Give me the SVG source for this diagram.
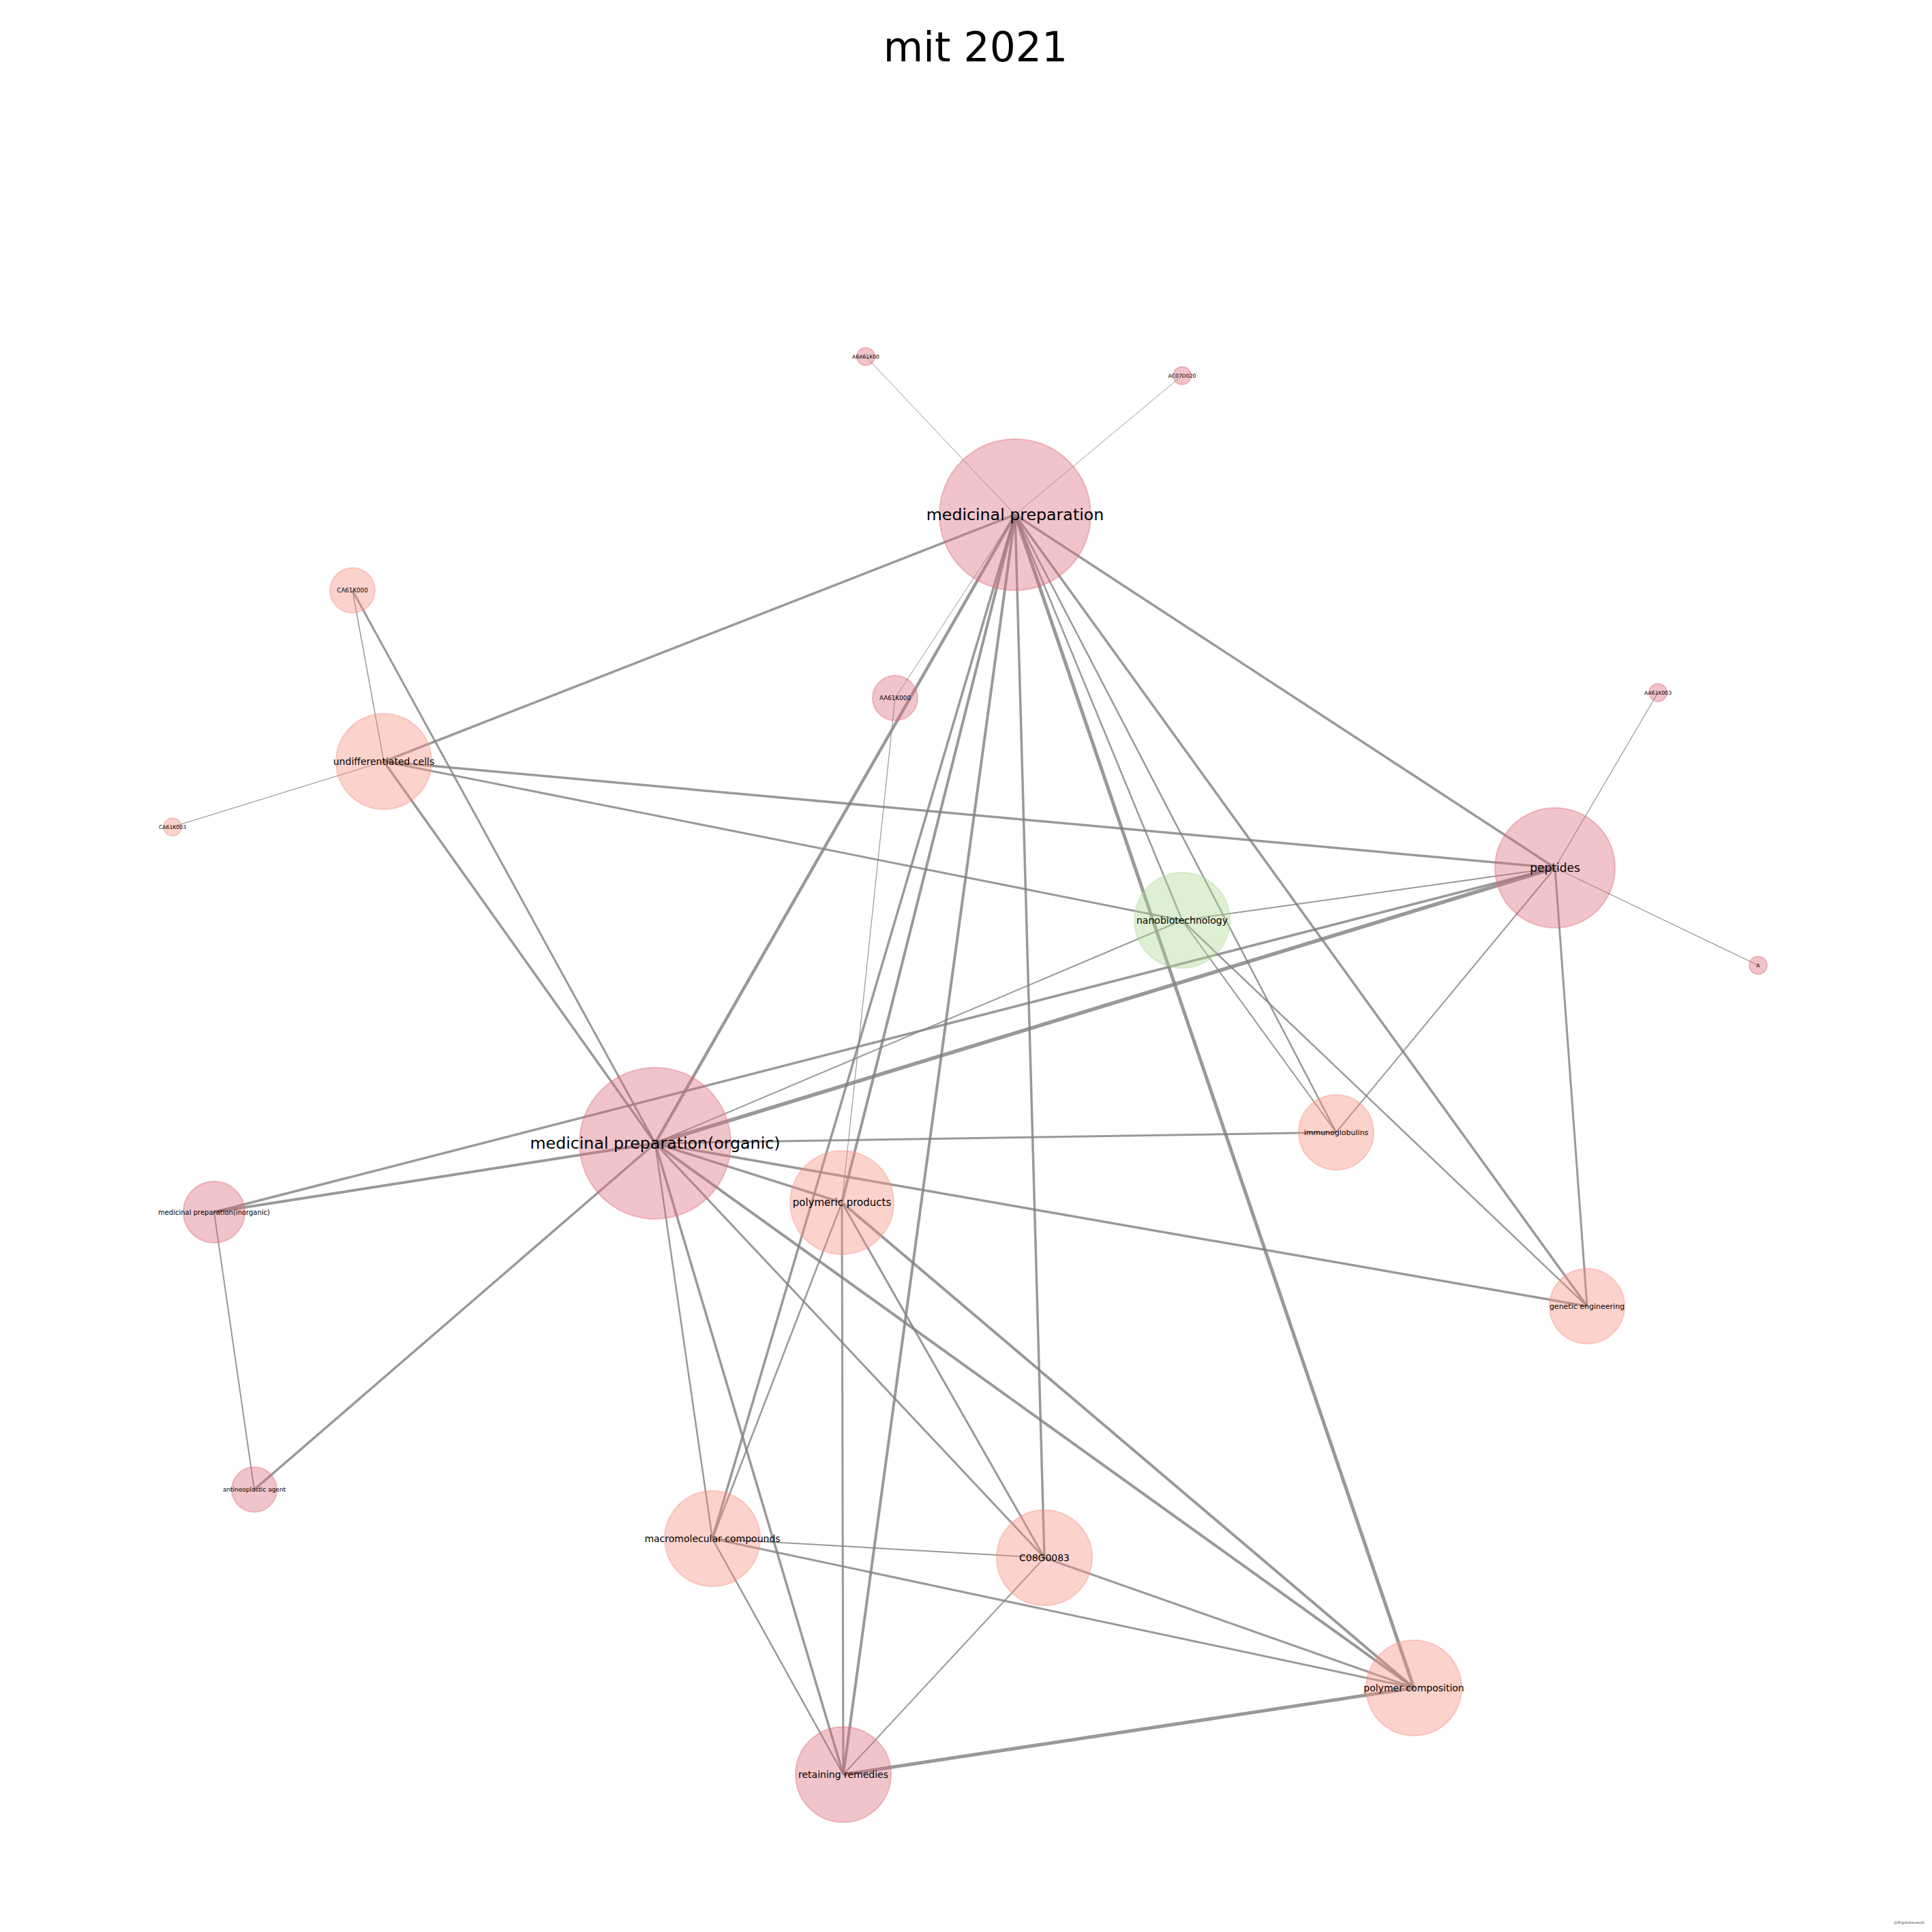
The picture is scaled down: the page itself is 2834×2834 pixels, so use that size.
<svg xmlns="http://www.w3.org/2000/svg" width="2834" height="2834" viewBox="0 0 2834 2834">
<style>
text{font-family:"DejaVu Sans","Liberation Sans",sans-serif;fill:#000;text-anchor:middle}
.e line{stroke:#808080;stroke-opacity:0.8;stroke-linecap:butt}
.pk circle{fill:rgb(220,108,120);fill-opacity:0.4;stroke:rgb(220,108,120);stroke-opacity:0.4;stroke-width:2}
.sa circle{fill:rgb(248,143,128);fill-opacity:0.4;stroke:rgb(248,143,128);stroke-opacity:0.4;stroke-width:2}
.gr circle{fill:rgb(172,218,148);fill-opacity:0.4;stroke:rgb(172,218,148);stroke-opacity:0.4;stroke-width:2}
</style>
<rect width="2834" height="2834" fill="#fff"/>
<text x="1431" y="90" font-size="60">mit 2021</text>
<g id="edges" class="e">
<line x1="1489" y1="755" x2="1270" y2="523" stroke-width="1"/>
<line x1="1489" y1="755" x2="1734" y2="551" stroke-width="1"/>
<line x1="1489" y1="755" x2="1313" y2="1024" stroke-width="1"/>
<line x1="1489" y1="755" x2="563" y2="1117" stroke-width="3.5"/>
<line x1="1489" y1="755" x2="2281" y2="1273" stroke-width="3.5"/>
<line x1="1489" y1="755" x2="961" y2="1677" stroke-width="4.5"/>
<line x1="1489" y1="755" x2="1235" y2="1764" stroke-width="4"/>
<line x1="1489" y1="755" x2="1045" y2="2257" stroke-width="3.5"/>
<line x1="1489" y1="755" x2="1237" y2="2603" stroke-width="4"/>
<line x1="1489" y1="755" x2="1532" y2="2285" stroke-width="3.5"/>
<line x1="1489" y1="755" x2="2074" y2="2476" stroke-width="5"/>
<line x1="1489" y1="755" x2="1734" y2="1350" stroke-width="2.5"/>
<line x1="1489" y1="755" x2="1960" y2="1661" stroke-width="2.5"/>
<line x1="1489" y1="755" x2="2328" y2="1916" stroke-width="3.5"/>
<line x1="961" y1="1677" x2="563" y2="1117" stroke-width="3.5"/>
<line x1="961" y1="1677" x2="517" y2="866" stroke-width="3"/>
<line x1="961" y1="1677" x2="2281" y2="1273" stroke-width="5.5"/>
<line x1="961" y1="1677" x2="314" y2="1778" stroke-width="4"/>
<line x1="961" y1="1677" x2="373" y2="2185" stroke-width="3.5"/>
<line x1="961" y1="1677" x2="1960" y2="1661" stroke-width="3"/>
<line x1="961" y1="1677" x2="2328" y2="1916" stroke-width="3.5"/>
<line x1="961" y1="1677" x2="2074" y2="2476" stroke-width="4"/>
<line x1="961" y1="1677" x2="1532" y2="2285" stroke-width="3"/>
<line x1="961" y1="1677" x2="1237" y2="2603" stroke-width="3.5"/>
<line x1="961" y1="1677" x2="1045" y2="2257" stroke-width="2.5"/>
<line x1="961" y1="1677" x2="1235" y2="1764" stroke-width="3.5"/>
<line x1="961" y1="1677" x2="1734" y2="1350" stroke-width="2"/>
<line x1="1235" y1="1764" x2="1045" y2="2257" stroke-width="2.5"/>
<line x1="1235" y1="1764" x2="1237" y2="2603" stroke-width="3"/>
<line x1="1235" y1="1764" x2="1532" y2="2285" stroke-width="3"/>
<line x1="1235" y1="1764" x2="2074" y2="2476" stroke-width="4"/>
<line x1="1235" y1="1764" x2="1313" y2="1024" stroke-width="1.2"/>
<line x1="563" y1="1117" x2="517" y2="866" stroke-width="1.5"/>
<line x1="563" y1="1117" x2="253" y2="1213" stroke-width="1.2"/>
<line x1="563" y1="1117" x2="2281" y2="1273" stroke-width="3.5"/>
<line x1="563" y1="1117" x2="1734" y2="1350" stroke-width="3"/>
<line x1="2281" y1="1273" x2="2432" y2="1016" stroke-width="1.2"/>
<line x1="2281" y1="1273" x2="2579" y2="1416" stroke-width="1.2"/>
<line x1="2281" y1="1273" x2="1960" y2="1661" stroke-width="2"/>
<line x1="2281" y1="1273" x2="2328" y2="1916" stroke-width="3"/>
<line x1="2281" y1="1273" x2="1734" y2="1350" stroke-width="2"/>
<line x1="2281" y1="1273" x2="314" y2="1778" stroke-width="3.5"/>
<line x1="1734" y1="1350" x2="1960" y2="1661" stroke-width="2"/>
<line x1="1734" y1="1350" x2="2328" y2="1916" stroke-width="2.5"/>
<line x1="314" y1="1778" x2="373" y2="2185" stroke-width="2"/>
<line x1="1045" y1="2257" x2="1532" y2="2285" stroke-width="2"/>
<line x1="1045" y1="2257" x2="2074" y2="2476" stroke-width="3"/>
<line x1="1045" y1="2257" x2="1237" y2="2603" stroke-width="2.5"/>
<line x1="1532" y1="2285" x2="2074" y2="2476" stroke-width="3"/>
<line x1="1532" y1="2285" x2="1237" y2="2603" stroke-width="2"/>
<line x1="1237" y1="2603" x2="2074" y2="2476" stroke-width="5"/>
</g>
<g id="n-mp" class="pk"><circle cx="1489" cy="755" r="111"/><text x="1489" y="755" dy="0.35em" font-size="23.7">medicinal preparation</text></g>
<g id="n-mpo" class="pk"><circle cx="961" cy="1677" r="111"/><text x="961" y="1677" dy="0.35em" font-size="23.7">medicinal preparation(organic)</text></g>
<g id="n-pep" class="pk"><circle cx="2281" cy="1273" r="88"/><text x="2281" y="1273" dy="0.35em" font-size="17">peptides</text></g>
<g id="n-nano" class="gr"><circle cx="1734" cy="1350" r="70"/><text x="1734" y="1350" dy="0.35em" font-size="14">nanobiotechnology</text></g>
<g id="n-uc" class="sa"><circle cx="563" cy="1117" r="70"/><text x="563" y="1117" dy="0.35em" font-size="14">undifferentiated cells</text></g>
<g id="n-imm" class="sa"><circle cx="1960" cy="1661" r="55"/><text x="1960" y="1661" dy="0.35em" font-size="11">immunoglobulins</text></g>
<g id="n-pp" class="sa"><circle cx="1235" cy="1764" r="76"/><text x="1235" y="1764" dy="0.35em" font-size="15">polymeric products</text></g>
<g id="n-ge" class="sa"><circle cx="2328" cy="1916" r="55"/><text x="2328" y="1916" dy="0.35em" font-size="11">genetic engineering</text></g>
<g id="n-mc" class="sa"><circle cx="1045" cy="2257" r="70"/><text x="1045" y="2257" dy="0.35em" font-size="14">macromolecular compounds</text></g>
<g id="n-c08" class="sa"><circle cx="1532" cy="2285" r="70"/><text x="1532" y="2285" dy="0.35em" font-size="14">C08G0083</text></g>
<g id="n-pc" class="sa"><circle cx="2074" cy="2476" r="70"/><text x="2074" y="2476" dy="0.35em" font-size="14">polymer composition</text></g>
<g id="n-rr" class="pk"><circle cx="1237" cy="2603" r="70"/><text x="1237" y="2603" dy="0.35em" font-size="14">retaining remedies</text></g>
<g id="n-mpi" class="pk"><circle cx="314" cy="1778" r="45"/><text x="314" y="1778" dy="0.35em" font-size="10">medicinal preparation(inorganic)</text></g>
<g id="n-aa" class="pk"><circle cx="373" cy="2185" r="33"/><text x="373" y="2185" dy="0.35em" font-size="9">antineoplastic agent</text></g>
<g id="n-ca0" class="sa"><circle cx="517" cy="866" r="33"/><text x="517" y="866" dy="0.35em" font-size="8.7">CA61K000</text></g>
<g id="n-ca3" class="sa"><circle cx="253" cy="1213" r="13"/><text x="253" y="1213" dy="0.35em" font-size="7.7">CA61K003</text></g>
<g id="n-aa0" class="pk"><circle cx="1313" cy="1024" r="33"/><text x="1313" y="1024" dy="0.35em" font-size="8.8">AA61K000</text></g>
<g id="n-a6" class="pk"><circle cx="1270" cy="523" r="13"/><text x="1270" y="523" dy="0.35em" font-size="7.7">A6A61K00</text></g>
<g id="n-ac" class="pk"><circle cx="1734" cy="551" r="13"/><text x="1734" y="551" dy="0.35em" font-size="7.7">AC07D020</text></g>
<g id="n-aa3" class="pk"><circle cx="2432" cy="1016" r="13"/><text x="2432" y="1016" dy="0.35em" font-size="7.7">AA61K003</text></g>
<g id="n-a" class="pk"><circle cx="2579" cy="1416" r="13"/><text x="2579" y="1416" dy="0.35em" font-size="7.7">A</text></g>
<text x="2823" y="2822" font-size="5.5" font-weight="bold" style="fill:#999;text-anchor:end">@Bigdatavault</text>
</svg>
